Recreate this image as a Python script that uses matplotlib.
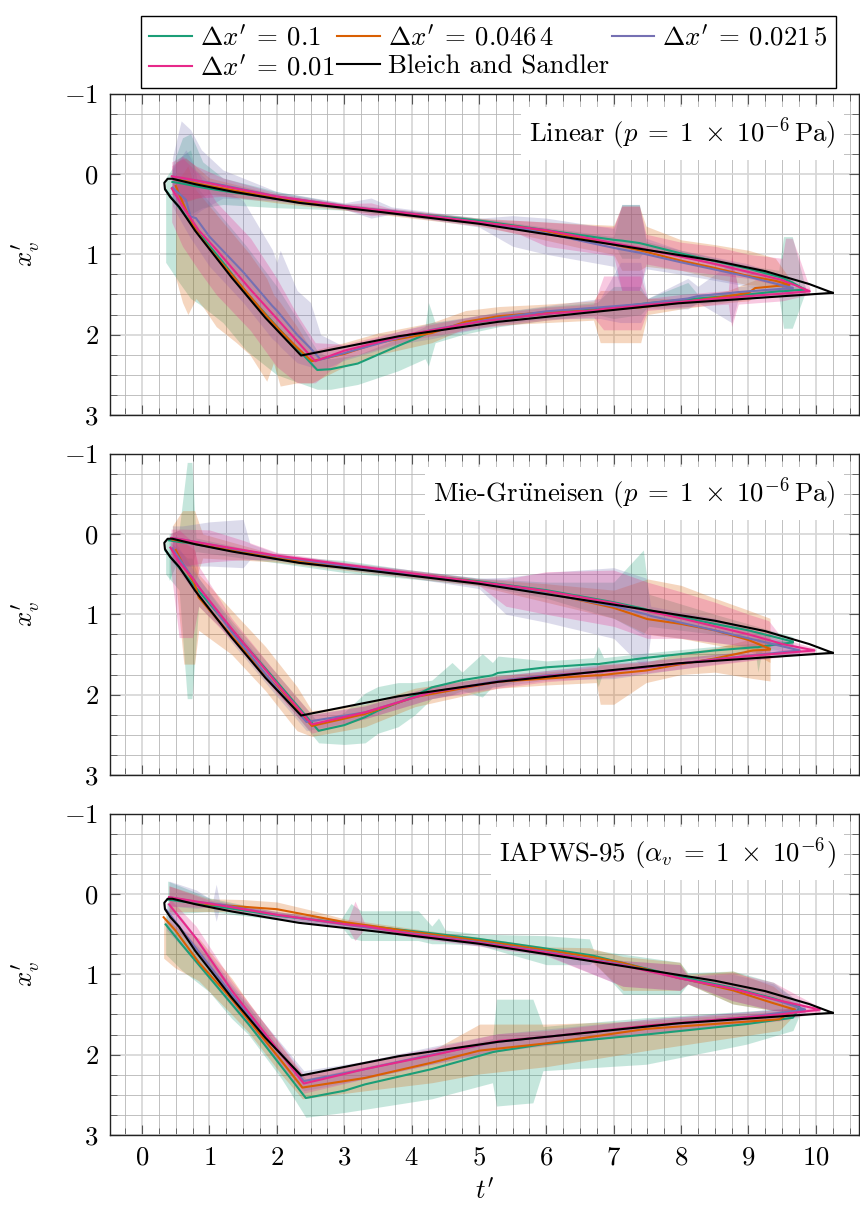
import matplotlib
matplotlib.use("Agg")
import matplotlib.pyplot as plt
from matplotlib.lines import Line2D
from matplotlib.ticker import MultipleLocator

plt.rcParams["font.family"] = "serif"
plt.rcParams["font.serif"] = ["cmr10"]
plt.rcParams["mathtext.fontset"] = "cm"
plt.rcParams["axes.formatter.use_mathtext"] = True

FS = 19.3

colors = ["#1b9e77", "#d95f02", "#7570b3", "#e7298a"]
labels = [r"$\Delta x'\:=\:0.1$", r"$\Delta x'\:=\:0.046\,4$",
          r"$\Delta x'\:=\:0.021\,5$", r"$\Delta x'\:=\:0.01$"]
titles = [r"Linear $(p\;=\;1\;\times\;10^{-6}\,\mathrm{Pa})$",
          r"Mie-Gr$\ddot{\mathrm{u}}$neisen $(p\;=\;1\;\times\;10^{-6}\,\mathrm{Pa})$",
          r"IAPWS-95 $(\alpha_v\;=\;1\;\times\;10^{-6})$"]

# Bleich and Sandler reference loop (t', x'_v)
bs_t = [10.25, 9.9, 9.25, 8.5, 7.0, 5.0, 3.5, 2.33, 1.34, 0.8, 0.45, 0.38, 0.33,
        0.34, 0.42, 0.55, 0.79, 1.33, 1.83, 2.36, 3.81, 5.29, 7.96, 10.25]
bs_x = [1.48, 1.37, 1.21, 1.08, 0.88, 0.62, 0.47, 0.36, 0.22, 0.13, 0.06, 0.06, 0.11,
        0.19, 0.29, 0.41, 0.71, 1.29, 1.79, 2.26, 2.02, 1.84, 1.61, 1.48]

# each row: (t', mean x'_v, lower, upper)
# ---- Linear ----
lin_green_top = [
    (0.45, 0.10, -0.10, 0.35), (0.60, 0.12, -0.45, 0.48), (0.72, 0.14, -0.50, 0.50),
    (0.90, 0.17, -0.15, 0.42), (1.20, 0.21, 0.05, 0.38), (2.00, 0.31, 0.22, 0.42),
    (3.00, 0.41, 0.37, 0.45), (5.00, 0.58, 0.55, 0.62), (7.00, 0.82, 0.78, 0.86),
    (7.12, 0.83, 0.38, 1.05), (7.38, 0.86, 0.38, 1.05), (7.48, 0.88, 0.84, 0.92),
    (8.00, 0.99, 0.95, 1.03), (9.00, 1.18, 1.14, 1.24), (9.45, 1.28, 1.20, 1.35),
    (9.52, 1.30, 0.78, 1.45), (9.65, 1.35, 0.78, 1.45), (9.84, 1.44, 1.40, 1.48)]
lin_green_bot = [
    (0.35, 0.20, 0.05, 1.10), (0.55, 0.42, -0.20, 1.35), (0.72, 0.60, -0.30, 1.55),
    (0.85, 0.74, 0.20, 1.62), (1.20, 1.10, 0.55, 1.85), (1.55, 1.48, 0.90, 2.20),
    (2.00, 1.90, 1.40, 2.50), (2.60, 2.44, 2.20, 2.68), (2.80, 2.43, 2.30, 2.68),
    (3.20, 2.36, 2.25, 2.62), (3.80, 2.14, 2.05, 2.45), (4.20, 2.00, 1.90, 2.30),
    (4.25, 1.98, 1.60, 2.39), (4.35, 1.95, 1.85, 2.10), (4.75, 1.87, 1.80, 2.00),
    (5.30, 1.81, 1.72, 1.90), (6.00, 1.74, 1.65, 1.82), (6.75, 1.68, 1.60, 1.75),
    (7.00, 1.66, 1.40, 1.80), (7.40, 1.62, 1.40, 1.75), (7.50, 1.61, 1.55, 1.66),
    (8.10, 1.56, 1.35, 1.65), (8.25, 1.55, 1.50, 1.62), (9.00, 1.50, 1.45, 1.56),
    (9.45, 1.46, 1.42, 1.52), (9.52, 1.46, 1.40, 1.92), (9.65, 1.45, 1.40, 1.92),
    (9.84, 1.44, 1.40, 1.48)]
lin_orange_top = [
    (0.50, 0.07, -0.15, 0.30), (0.65, 0.09, -0.20, 0.35), (1.00, 0.15, 0.05, 0.25),
    (2.00, 0.30, 0.26, 0.36), (3.00, 0.41, 0.38, 0.45), (5.00, 0.60, 0.55, 0.65),
    (5.60, 0.66, 0.58, 0.75), (6.50, 0.79, 0.62, 0.92), (7.00, 0.88, 0.64, 1.00),
    (7.12, 0.90, 0.40, 1.20), (7.38, 0.95, 0.40, 1.20), (7.48, 0.97, 0.65, 1.15),
    (8.00, 1.08, 0.82, 1.20), (8.50, 1.17, 0.88, 1.30), (9.00, 1.27, 0.95, 1.38),
    (9.40, 1.33, 1.05, 1.40), (9.61, 1.38, 1.30, 1.45)]
lin_orange_bot = [
    (0.50, 0.15, 0.10, 1.30), (0.60, 0.35, 0.00, 1.60), (0.68, 0.50, -0.10, 1.75),
    (0.80, 0.70, 0.20, 1.55), (0.90, 0.82, 0.30, 1.65), (1.10, 1.03, 0.50, 1.90),
    (1.40, 1.32, 0.80, 2.10), (1.60, 1.52, 1.00, 2.25), (1.85, 1.77, 1.30, 2.58),
    (1.95, 1.86, 1.50, 2.35), (2.05, 1.95, 1.60, 2.64), (2.30, 2.16, 1.90, 2.60),
    (2.52, 2.33, 2.20, 2.60), (3.00, 2.24, 2.10, 2.40), (3.50, 2.10, 1.98, 2.25),
    (4.30, 1.98, 1.85, 2.10), (4.80, 1.84, 1.70, 1.92), (5.30, 1.77, 1.65, 1.88),
    (6.00, 1.72, 1.62, 1.85), (6.70, 1.70, 1.58, 1.82), (6.80, 1.69, 1.45, 2.10),
    (7.40, 1.66, 1.45, 2.10), (7.50, 1.65, 1.55, 1.75), (8.00, 1.60, 1.55, 1.68),
    (8.70, 1.52, 1.45, 1.60), (9.00, 1.48, 1.35, 1.58), (9.10, 1.42, 1.32, 1.52),
    (9.61, 1.38, 1.30, 1.45)]
lin_purple_top = [
    (0.45, 0.03, -0.20, 0.30), (0.58, 0.05, -0.66, 0.50), (0.72, 0.07, -0.55, 0.55),
    (0.88, 0.09, -0.30, 0.45), (1.20, 0.14, -0.05, 0.30), (2.00, 0.28, 0.22, 0.34),
    (3.00, 0.40, 0.36, 0.44), (3.40, 0.44, 0.30, 0.55), (3.70, 0.46, 0.41, 0.50),
    (5.00, 0.60, 0.55, 0.66), (5.50, 0.66, 0.52, 0.90), (6.00, 0.74, 0.55, 1.00),
    (7.00, 0.92, 0.68, 1.15), (7.12, 0.94, 0.38, 1.45), (7.38, 0.98, 0.38, 1.45),
    (7.48, 1.00, 0.80, 1.18), (8.00, 1.10, 0.95, 1.25), (9.00, 1.28, 1.12, 1.40),
    (9.66, 1.42, 1.32, 1.50)]
lin_purple_bot = [
    (0.45, 0.17, -0.05, 0.40), (0.65, 0.32, -0.30, 0.70), (0.72, 0.53, -0.20, 0.80),
    (0.80, 0.55, -0.05, 0.90), (1.00, 0.78, 0.10, 1.15), (1.50, 1.22, 0.33, 1.60),
    (1.93, 1.64, 0.94, 2.05), (2.00, 1.70, 1.10, 2.10), (2.05, 1.75, 0.95, 2.15),
    (2.30, 2.00, 1.45, 2.35), (2.50, 2.17, 1.60, 2.40), (2.65, 2.31, 2.00, 2.45),
    (3.00, 2.23, 2.15, 2.32), (3.81, 2.04, 1.96, 2.12), (4.30, 1.94, 1.85, 2.05),
    (5.30, 1.79, 1.72, 1.87), (6.00, 1.71, 1.64, 1.80), (6.80, 1.66, 1.55, 1.80),
    (7.10, 1.64, 1.10, 1.85), (7.40, 1.62, 1.10, 1.85), (7.50, 1.61, 1.55, 1.68),
    (8.10, 1.55, 1.30, 1.68), (8.25, 1.52, 1.40, 1.60), (8.75, 1.48, 1.10, 1.85),
    (8.85, 1.47, 1.40, 1.55), (9.66, 1.42, 1.38, 1.48)]
lin_pink_top = [
    (0.44, 0.03, -0.15, 0.25), (0.60, 0.05, -0.22, 0.35), (0.80, 0.08, -0.10, 0.30),
    (1.20, 0.15, 0.05, 0.28), (2.00, 0.28, 0.24, 0.33), (3.00, 0.40, 0.37, 0.44),
    (3.40, 0.44, 0.36, 0.52), (3.65, 0.46, 0.42, 0.50), (5.00, 0.60, 0.56, 0.64),
    (5.60, 0.66, 0.58, 0.75), (6.00, 0.70, 0.60, 0.90), (7.00, 0.86, 0.66, 1.02),
    (7.12, 0.88, 0.40, 1.45), (7.38, 0.92, 0.40, 1.45), (7.48, 0.94, 0.75, 1.12),
    (8.00, 1.03, 0.85, 1.20), (8.50, 1.12, 0.90, 1.25), (9.00, 1.22, 1.00, 1.30),
    (9.50, 1.32, 1.05, 1.40), (9.55, 1.34, 0.80, 1.50), (9.65, 1.37, 0.80, 1.50),
    (9.91, 1.46, 1.42, 1.50)]
lin_pink_bot = [
    (0.44, 0.18, -0.10, 0.60), (0.60, 0.40, -0.20, 0.90), (0.84, 0.70, 0.00, 1.20),
    (1.10, 0.94, 0.35, 1.50), (1.61, 1.44, 0.80, 1.95), (2.00, 1.80, 1.30, 2.40),
    (2.30, 2.08, 1.75, 2.60), (2.57, 2.33, 2.10, 2.60), (3.00, 2.20, 2.12, 2.30),
    (4.00, 1.99, 1.92, 2.06), (5.00, 1.84, 1.76, 1.92), (6.00, 1.74, 1.66, 1.82),
    (6.70, 1.70, 1.62, 1.78), (6.85, 1.68, 1.27, 1.94), (7.40, 1.64, 1.27, 1.94),
    (7.50, 1.63, 1.55, 1.70), (8.00, 1.59, 1.50, 1.66), (8.70, 1.54, 1.45, 1.62),
    (8.75, 1.54, 1.02, 1.90), (8.85, 1.53, 1.45, 1.62), (9.50, 1.49, 1.42, 1.58),
    (9.91, 1.46, 1.42, 1.50)]

# ---- Mie-Grueneisen ----
mie_green_top = [
    (0.40, 0.08, 0.00, 0.58), (0.55, 0.10, -0.05, 0.30), (0.67, 0.11, -0.89, 0.40),
    (0.74, 0.12, -0.89, 0.40), (0.80, 0.13, 0.05, 0.22), (2.00, 0.31, 0.27, 0.36),
    (3.00, 0.41, 0.33, 0.48), (4.00, 0.50, 0.45, 0.56), (5.00, 0.59, 0.55, 0.64),
    (6.00, 0.70, 0.60, 0.80), (7.00, 0.85, 0.60, 1.05), (7.44, 0.93, 0.20, 1.25),
    (7.52, 0.95, 0.75, 1.15), (8.50, 1.12, 1.00, 1.25), (9.00, 1.20, 1.12, 1.30),
    (9.66, 1.34, 1.28, 1.42)]
mie_green_bot = [
    (0.35, 0.21, 0.05, 0.50), (0.55, 0.42, 0.20, 0.70), (0.67, 0.54, 0.30, 2.05),
    (0.74, 0.61, 0.30, 2.05), (0.84, 0.71, 0.55, 0.90), (1.33, 1.19, 1.08, 1.30),
    (2.00, 1.84, 1.74, 1.96), (2.62, 2.45, 2.35, 2.60), (3.00, 2.38, 2.22, 2.62),
    (3.31, 2.28, 1.98, 2.60), (3.50, 2.20, 1.90, 2.48), (3.80, 2.10, 1.85, 2.40),
    (4.05, 2.01, 1.85, 2.25), (4.30, 1.91, 1.82, 2.05), (4.60, 1.85, 1.60, 2.00),
    (4.75, 1.82, 1.72, 1.95), (5.05, 1.78, 1.49, 2.03), (5.20, 1.76, 1.60, 1.90),
    (5.28, 1.73, 1.52, 1.90), (6.00, 1.66, 1.58, 1.74), (6.70, 1.62, 1.54, 1.70),
    (6.77, 1.62, 1.40, 1.90), (6.85, 1.61, 1.54, 1.70), (7.50, 1.54, 1.48, 1.62),
    (8.50, 1.45, 1.40, 1.52), (9.10, 1.41, 1.36, 1.46), (9.14, 1.41, 1.30, 1.72),
    (9.20, 1.40, 1.35, 1.46), (9.66, 1.35, 1.30, 1.40)]
mie_orange_top = [
    (0.45, 0.07, -0.10, 0.30), (0.60, 0.09, -0.29, 0.50), (0.78, 0.12, -0.29, 0.60),
    (0.90, 0.14, 0.00, 0.30), (2.00, 0.30, 0.26, 0.35), (3.00, 0.41, 0.37, 0.45),
    (4.00, 0.50, 0.46, 0.55), (5.00, 0.60, 0.56, 0.65), (6.00, 0.73, 0.62, 0.85),
    (7.00, 0.92, 0.70, 1.05), (7.50, 1.06, 0.56, 1.25), (8.00, 1.12, 0.64, 1.30),
    (8.50, 1.20, 0.80, 1.38), (9.00, 1.32, 0.95, 1.45), (9.32, 1.43, 1.05, 1.60)]
mie_orange_bot = [
    (0.50, 0.20, 0.05, 0.60), (0.62, 0.40, 0.10, 1.62), (0.78, 0.62, 0.20, 1.62),
    (0.84, 0.79, 0.50, 1.20), (1.33, 1.27, 0.95, 1.50), (1.83, 1.75, 1.40, 1.95),
    (2.30, 2.18, 1.90, 2.45), (2.52, 2.39, 2.20, 2.52), (3.31, 2.24, 2.12, 2.40),
    (4.05, 2.03, 1.92, 2.15), (5.28, 1.84, 1.76, 1.92), (6.00, 1.80, 1.72, 1.88),
    (6.74, 1.76, 1.66, 1.85), (6.80, 1.76, 1.62, 2.12), (7.00, 1.74, 1.62, 2.12),
    (7.48, 1.70, 1.60, 1.85), (8.00, 1.62, 1.48, 1.75), (8.50, 1.55, 1.42, 1.72),
    (9.07, 1.45, 1.30, 1.80), (9.32, 1.44, 1.30, 1.83)]
mie_purple_top = [
    (0.45, 0.05, -0.10, 0.35), (0.60, 0.07, -0.10, 0.40), (1.00, 0.13, -0.15, 0.40),
    (1.50, 0.21, -0.18, 0.42), (1.60, 0.22, 0.12, 0.32), (2.00, 0.28, 0.24, 0.33),
    (3.00, 0.40, 0.36, 0.44), (4.00, 0.50, 0.45, 0.55), (5.00, 0.61, 0.55, 0.68),
    (5.40, 0.66, 0.54, 1.00), (6.00, 0.74, 0.48, 1.10), (7.00, 0.90, 0.42, 1.30),
    (7.48, 1.00, 0.55, 1.70), (7.55, 1.02, 0.90, 1.25), (8.50, 1.20, 1.05, 1.35),
    (9.76, 1.45, 1.40, 1.50)]
mie_purple_bot = [
    (0.45, 0.18, 0.05, 0.35), (0.84, 0.66, 0.55, 0.80), (1.33, 1.22, 1.12, 1.35),
    (2.00, 1.92, 1.82, 2.02), (2.44, 2.34, 2.25, 2.45), (3.31, 2.22, 2.14, 2.30),
    (4.30, 1.97, 1.90, 2.05), (5.28, 1.83, 1.76, 1.90), (6.00, 1.76, 1.70, 1.82),
    (7.00, 1.70, 1.60, 1.80), (7.50, 1.66, 1.58, 1.74), (8.50, 1.56, 1.50, 1.62),
    (9.76, 1.45, 1.40, 1.50)]
mie_pink_top = [
    (0.43, 0.05, -0.06, 0.35), (0.60, 0.07, -0.06, 0.40), (1.00, 0.13, -0.05, 0.35),
    (1.50, 0.20, 0.08, 0.32), (2.00, 0.27, 0.23, 0.32), (3.00, 0.38, 0.35, 0.42),
    (4.00, 0.49, 0.45, 0.53), (5.00, 0.60, 0.56, 0.64), (5.40, 0.64, 0.56, 0.90),
    (6.00, 0.71, 0.47, 1.00), (7.00, 0.86, 0.45, 1.15), (7.50, 0.96, 0.60, 1.30),
    (8.00, 1.05, 0.72, 1.30), (8.50, 1.15, 0.85, 1.35), (9.00, 1.25, 1.00, 1.40),
    (9.30, 1.32, 1.08, 1.42), (9.50, 1.37, 1.30, 1.45), (9.98, 1.45, 1.42, 1.48)]
mie_pink_bot = [
    (0.42, 0.17, 0.00, 0.40), (0.55, 0.35, -0.05, 1.29), (0.75, 0.55, 0.10, 1.29),
    (0.84, 0.66, 0.40, 0.90), (1.33, 1.18, 1.05, 1.32), (2.00, 1.86, 1.74, 1.98),
    (2.52, 2.37, 2.25, 2.48), (3.31, 2.22, 2.14, 2.30), (4.30, 1.97, 1.89, 2.05),
    (5.28, 1.84, 1.77, 1.92), (6.00, 1.77, 1.70, 1.84), (7.00, 1.70, 1.62, 1.78),
    (8.00, 1.61, 1.54, 1.68), (9.00, 1.52, 1.46, 1.58), (9.98, 1.45, 1.42, 1.48)]

# ---- IAPWS-95 ----
iap_green_top = [
    (0.38, 0.07, -0.16, 0.25), (1.00, 0.14, 0.05, 0.22), (2.00, 0.27, 0.22, 0.32),
    (2.95, 0.36, 0.32, 0.40), (3.10, 0.38, 0.12, 0.55), (3.25, 0.39, 0.21, 0.58),
    (4.10, 0.47, 0.21, 0.58), (4.30, 0.49, 0.40, 0.62), (4.40, 0.50, 0.30, 0.62),
    (4.50, 0.51, 0.45, 0.62), (5.00, 0.56, 0.50, 0.64), (6.00, 0.68, 0.52, 0.88),
    (6.64, 0.76, 0.56, 0.88), (6.70, 0.77, 0.70, 0.84), (7.14, 0.86, 0.75, 1.25),
    (7.98, 1.03, 0.85, 1.25), (8.10, 1.05, 0.98, 1.12), (8.77, 1.17, 0.96, 1.37),
    (9.37, 1.30, 1.10, 1.45), (9.76, 1.41, 1.35, 1.47)]
iap_green_bot = [
    (0.35, 0.38, 0.25, 0.75), (0.59, 0.63, 0.45, 0.95), (1.00, 1.04, 0.80, 1.22),
    (1.33, 1.37, 1.15, 1.55), (1.58, 1.62, 1.40, 1.75), (2.07, 2.15, 1.95, 2.30),
    (2.43, 2.54, 2.30, 2.78), (3.00, 2.45, 2.20, 2.72), (3.31, 2.37, 2.15, 2.68),
    (4.30, 2.18, 1.98, 2.55), (5.20, 1.97, 1.80, 2.35), (5.26, 1.96, 1.31, 2.64),
    (5.80, 1.89, 1.31, 2.60), (5.95, 1.87, 1.65, 2.20), (7.48, 1.75, 1.54, 2.12),
    (8.97, 1.62, 1.46, 1.87), (9.66, 1.54, 1.42, 1.70), (9.76, 1.41, 1.38, 1.50)]
iap_orange_top = [
    (0.40, 0.05, -0.10, 0.22), (1.00, 0.13, 0.06, 0.22), (1.50, 0.16, 0.07, 0.22),
    (2.00, 0.19, 0.10, 0.24), (2.50, 0.27, 0.20, 0.33), (3.00, 0.35, 0.31, 0.39),
    (4.00, 0.47, 0.43, 0.51), (5.00, 0.58, 0.54, 0.62), (6.00, 0.70, 0.66, 0.74),
    (6.64, 0.78, 0.67, 0.82), (7.14, 0.86, 0.78, 1.20), (7.98, 1.05, 0.85, 1.20),
    (8.10, 1.07, 1.00, 1.12), (8.77, 1.20, 0.96, 1.37), (9.37, 1.36, 1.15, 1.45),
    (9.69, 1.44, 1.38, 1.48)]
iap_orange_bot = [
    (0.32, 0.29, 0.28, 0.80), (0.49, 0.45, 0.40, 0.92), (0.84, 0.85, 0.55, 1.08),
    (1.33, 1.31, 1.05, 1.50), (1.58, 1.57, 1.35, 1.72), (2.07, 2.08, 1.90, 2.25),
    (2.38, 2.41, 2.25, 2.55), (3.31, 2.29, 2.10, 2.45), (4.30, 2.10, 1.95, 2.35),
    (5.01, 1.95, 1.62, 2.24), (6.00, 1.86, 1.62, 2.15), (7.48, 1.68, 1.58, 1.95),
    (9.46, 1.56, 1.46, 1.70), (9.69, 1.44, 1.40, 1.50)]
iap_purple_top = [
    (0.40, 0.04, -0.16, 0.15), (0.80, 0.10, -0.05, 0.18), (1.05, 0.12, 0.08, 0.16),
    (1.10, 0.13, -0.12, 0.34), (1.15, 0.13, 0.09, 0.17), (2.00, 0.26, 0.22, 0.30),
    (3.00, 0.38, 0.34, 0.42), (4.00, 0.49, 0.45, 0.53), (5.00, 0.60, 0.56, 0.64),
    (6.00, 0.72, 0.68, 0.76), (7.14, 0.88, 0.83, 1.15), (7.98, 1.05, 0.88, 1.20),
    (8.10, 1.07, 1.02, 1.12), (8.77, 1.18, 1.00, 1.33), (9.37, 1.31, 1.12, 1.45),
    (9.84, 1.44, 1.40, 1.48)]
iap_purple_bot = [
    (0.36, 0.20, 0.10, 0.45), (0.59, 0.45, 0.30, 0.65), (1.33, 1.25, 1.12, 1.40),
    (2.40, 2.33, 2.20, 2.45), (3.31, 2.18, 2.08, 2.30), (4.30, 2.00, 1.90, 2.12),
    (5.28, 1.84, 1.74, 1.96), (7.48, 1.65, 1.56, 1.74), (9.00, 1.53, 1.46, 1.60),
    (9.84, 1.44, 1.40, 1.48)]
iap_pink_top = [
    (0.40, 0.04, -0.10, 0.15), (1.00, 0.12, 0.08, 0.17), (2.00, 0.26, 0.22, 0.30),
    (3.05, 0.38, 0.34, 0.42), (3.16, 0.39, 0.09, 0.58), (3.30, 0.40, 0.36, 0.44),
    (4.00, 0.50, 0.46, 0.54), (5.00, 0.61, 0.57, 0.65), (6.00, 0.73, 0.69, 0.77),
    (7.14, 0.89, 0.83, 1.15), (7.98, 1.05, 0.88, 1.20), (8.10, 1.07, 1.02, 1.12),
    (8.77, 1.18, 0.98, 1.33), (9.37, 1.31, 1.10, 1.45), (10.06, 1.44, 1.41, 1.47)]
iap_pink_bot = [
    (0.40, 0.13, 0.05, 0.35), (0.80, 0.55, 0.40, 0.70), (1.33, 1.20, 1.08, 1.35),
    (2.40, 2.36, 2.25, 2.48), (3.31, 2.18, 2.08, 2.30), (4.30, 2.01, 1.92, 2.12),
    (5.28, 1.83, 1.74, 1.94), (6.00, 1.78, 1.70, 1.88), (7.48, 1.64, 1.56, 1.74),
    (9.46, 1.50, 1.44, 1.58), (10.06, 1.44, 1.41, 1.47)]

panels = [
    [(lin_green_top, lin_green_bot), (lin_orange_top, lin_orange_bot),
     (lin_purple_top, lin_purple_bot), (lin_pink_top, lin_pink_bot)],
    [(mie_green_top, mie_green_bot), (mie_orange_top, mie_orange_bot),
     (mie_purple_top, mie_purple_bot), (mie_pink_top, mie_pink_bot)],
    [(iap_green_top, iap_green_bot), (iap_orange_top, iap_orange_bot),
     (iap_purple_top, iap_purple_bot), (iap_pink_top, iap_pink_bot)],
]


def col(rows, i):
    return [r[i] for r in rows]


fig = plt.figure(figsize=(8.6, 12.06), dpi=100)
bottoms = [0.6559, 0.3574, 0.0589]
axes = []
for k in range(3):
    ax = fig.add_axes([0.1276, bottoms[k], 0.8712, 0.2665])
    axes.append(ax)
    series = panels[k]
    for (top, bot), c in zip(series, colors):
        for br in (top, bot):
            ax.fill_between(col(br, 0), col(br, 2), col(br, 3), color=c,
                            alpha=0.25, lw=0)
    for (top, bot), c in zip(series, colors):
        ax.plot(col(top, 0) + col(bot, 0)[::-1], col(top, 1) + col(bot, 1)[::-1],
                color=c, lw=1.5)
    ax.plot(bs_t, bs_x, color="black", lw=1.5)

    ax.set_xlim(-0.48, 10.64)
    ax.set_ylim(3, -1)
    ax.xaxis.set_major_locator(MultipleLocator(1))
    ax.xaxis.set_minor_locator(MultipleLocator(0.25))
    ax.yaxis.set_major_locator(MultipleLocator(1))
    ax.yaxis.set_minor_locator(MultipleLocator(0.25))
    ax.grid(which="major", color="#d6d6d6", lw=1.2)
    ax.grid(which="minor", color="#b6b6b6", lw=0.6)
    ax.set_axisbelow(True)
    ax.tick_params(which="both", direction="in", top=True, right=True,
                   labelsize=FS, colors="#555555", labelcolor="black")
    ax.tick_params(which="major", length=7, pad=8)
    ax.tick_params(which="minor", length=5)
    for s in ax.spines.values():
        s.set_color("#222222")
        s.set_linewidth(1.0)
    ax.set_ylabel(r"$x^{\prime}_{v}$", fontsize=FS, labelpad=16)
    if k < 2:
        ax.tick_params(labelbottom=False)
    ax.text(0.969, 0.875, titles[k], transform=ax.transAxes, ha="right",
            va="center", fontsize=FS,
            bbox=dict(boxstyle="square,pad=0.3", fc="white", ec="none"))

axes[2].set_xlabel(r"$t'$", fontsize=FS, labelpad=6)

handles = [Line2D([], [], color=c, lw=1.5) for c in colors]
handles.append(Line2D([], [], color="black", lw=1.5))
names = labels + ["Bleich and Sandler"]
order = [0, 3, 1, 4, 2]
fig.legend([handles[i] for i in order], [names[i] for i in order], ncol=3,
           loc="upper center", bbox_to_anchor=(0.568, 0.9975), fontsize=FS,
           frameon=True, fancybox=False, edgecolor="black", framealpha=1,
           handlelength=1.6, handletextpad=0.3, columnspacing=0.1,
           borderpad=0.3, labelspacing=0.15)

fig.savefig("out.png", dpi=100)
